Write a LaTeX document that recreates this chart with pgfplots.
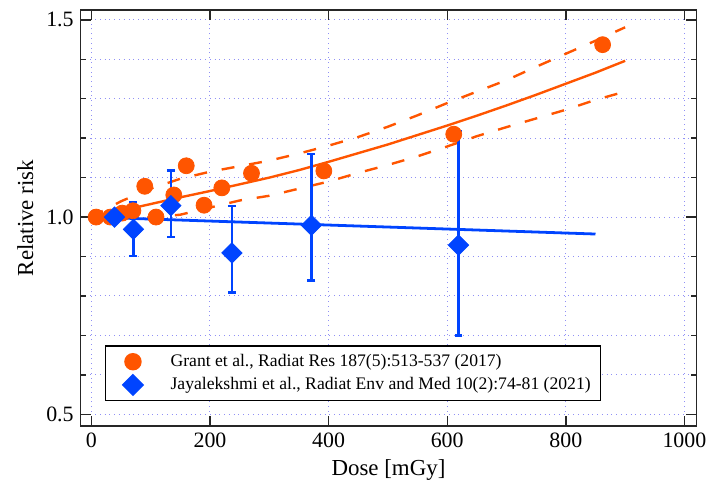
\documentclass[border=0pt]{standalone}
\usepackage{fontspec}
\setmainfont{Liberation Serif}
\usepackage{pgfplots}
\usepackage{pgfplotstable}
\pgfplotsset{compat=1.18}
\definecolor{grantor}{HTML}{FF5500}
\definecolor{jayblue}{HTML}{0044FF}
\definecolor{gridblue}{HTML}{9090F5}

% Grant et al. points
\pgfplotstableread{
x y
8 1.000
32 1.000
52 1.010
70 1.016
90 1.078
109 1.000
139 1.056
160 1.130
190 1.030
220 1.074
270 1.111
392 1.117
611 1.210
862 1.437
}\granttab

% Jayalekshmi et al. points, ep/em = upper/lower error
\pgfplotstableread{
x y ep em
39 1.000 0.000 0.000
71 0.969 0.069 0.068
134 1.029 0.089 0.080
237 0.909 0.119 0.100
371 0.979 0.181 0.140
619 0.929 0.289 0.229
}\jaytab

% fitted risk curve with confidence band
\pgfplotstableread{
x mid lo hi
0 1.000 1.000 1.000
50 1.016 0.998 1.040
100 1.033 0.999 1.072
150 1.050 1.006 1.097
200 1.066 1.024 1.115
250 1.083 1.042 1.129
300 1.100 1.054 1.143
350 1.119 1.072 1.161
400 1.140 1.090 1.181
450 1.162 1.112 1.203
500 1.184 1.132 1.229
550 1.208 1.154 1.258
600 1.232 1.179 1.289
650 1.257 1.205 1.318
700 1.283 1.228 1.347
750 1.310 1.250 1.381
800 1.338 1.272 1.414
850 1.366 1.297 1.447
900 1.396 1.318 1.481
}\fittab

\begin{document}
\begin{tikzpicture}
\begin{axis}[
    name=ax,
    scale only axis,
    width=309pt, height=208.9pt,
    xmin=-18, xmax=1020,
    ymin=0.47, ymax=1.525,
    xtick={0,200,...,1000},
    ytick={0.5,1.0,1.5},
    minor ytick={0.6,0.7,0.8,0.9,1.1,1.2,1.3,1.4},
    xticklabel style={/pgf/number format/1000 sep={}},
    yticklabel style={/pgf/number format/.cd, fixed, fixed zerofill, precision=1},
    /pgf/number format/assume math mode=true,
    tick align=inside,
    major tick length=5pt,
    minor tick length=2.5pt,
    xmajorgrids, ymajorgrids, yminorgrids,
    major grid style={dotted, gridblue, line width=0.5pt},
    minor grid style={dotted, gridblue, line width=0.5pt},
    axis line style={black!85, line width=0.8pt},
    tick style={black!85, line width=0.7pt},
    ticklabel style={font=\rmfamily\fontsize{11}{13}\selectfont},
    xlabel={Dose [mGy]},
    ylabel={Relative risk},
    label style={font=\fontsize{11.5}{13}\selectfont},
    xlabel style={at={(axis description cs:0.5,-0.106)}, anchor=center},
    ylabel style={at={(axis description cs:-0.09,0.5)}, anchor=center},
    legend cell align=left,
    legend image code/.code={\path (0pt,0pt) (27pt,0pt); \draw[#1] plot coordinates {(10.5pt,0pt)};},
    legend style={at={(axis description cs:0.0388,0.194)}, anchor=north west,
        draw=black, line width=0.75pt, fill=white,
        font=\fontsize{8.85}{11.5}\selectfont, inner xsep=3pt, inner ysep=2pt},
]
% fit curve and band
\addplot[grantor, line width=1.2pt, forget plot] table[x=x, y=mid] {\fittab};
\addplot[grantor, line width=1.2pt, dash pattern=on 6.5pt off 7.5pt, forget plot] table[x=x, y=hi] {\fittab};
\addplot[grantor, line width=1.2pt, dash pattern=on 6.5pt off 7.5pt, forget plot] table[x=x, y=lo] {\fittab};
% Grant points
\addplot[only marks, mark=*, mark size=4pt, grantor, mark options={draw=grantor, fill=grantor}]
    table[x=x, y=y] {\granttab};
% Jayalekshmi line
\addplot[jayblue, line width=1.4pt, forget plot] coordinates {(0,1.000) (850,0.957)};
% Jayalekshmi points
\addplot[only marks, mark=square*, mark size=3.6pt, jayblue,
    mark options={rotate=45, draw=jayblue, fill=jayblue},
    error bars/.cd, y dir=both, y explicit,
    error bar style={line width=1.2pt, jayblue},
    error mark options={rotate=90, mark size=2pt, line width=1.2pt, jayblue}]
    table[x=x, y=y, y error plus=ep, y error minus=em] {\jaytab};
\legend{{Grant et al., Radiat Res 187(5):513-537 (2017)},
        {Jayalekshmi et al., Radiat Env and Med 10(2):74-81 (2021)}}
\end{axis}
\path (ax.south west) +(-40.5pt,-30.2pt) (ax.north east) +(7pt,5pt);
\end{tikzpicture}
\end{document}
